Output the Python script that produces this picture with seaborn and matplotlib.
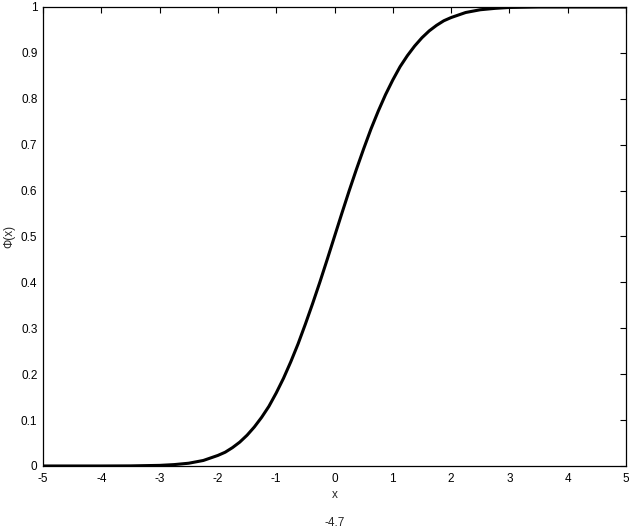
import pandas as pd
import matplotlib
matplotlib.use("Agg")
import matplotlib.pyplot as plt
import seaborn as sns

# Values
x_vals = [-5, -4.5, -4, -3.5, -3, -2.75, -2.5, -2.25, -2, -1.875, -1.75,
          -1.625, -1.5, -1.375, -1.25, -1.125, -1, -0.875, -0.75, -0.625,
          -0.5, -0.375, -0.25, -0.125, 0, 0.125, 0.25, 0.375, 0.5, 0.625,
          0.75, 0.875, 1, 1.125, 1.25, 1.375, 1.5, 1.625, 1.75, 1.875, 2,
          2.25, 2.5, 2.75, 3, 3.5, 4, 4.5, 5]
phi_vals = [0.0, 0.0, 0.0, 0.0002, 0.0013, 0.003, 0.006, 0.012, 0.023, 0.030,
            0.040, 0.052, 0.067, 0.085, 0.106, 0.130, 0.159, 0.191, 0.227,
            0.266, 0.309, 0.354, 0.401, 0.450, 0.500, 0.550, 0.599, 0.646,
            0.691, 0.734, 0.773, 0.809, 0.841, 0.870, 0.894, 0.915, 0.933,
            0.948, 0.960, 0.970, 0.977, 0.988, 0.994, 0.997, 0.999, 1.0,
            1.0, 1.0, 1.0]
x_ticks = [-5, -4, -3, -2, -1, 0, 1, 2, 3, 4, 5]
y_ticks = [0, 0.1, 0.2, 0.3, 0.4, 0.5, 0.6, 0.7, 0.8, 0.9, 1]
y_tick_labels = ["0", "0.1", "0.2", "0.3", "0.4", "0.5", "0.6", "0.7", "0.8", "0.9", "1"]

df = pd.DataFrame({"x": x_vals, "phi": phi_vals})

sns.set_style("white")
plt.rcParams["font.family"] = ["Liberation Sans", "DejaVu Sans"]
plt.rcParams["axes.unicode_minus"] = False

fig = plt.figure(figsize=(6.29, 5.30), dpi=100)
ax = fig.add_axes([0.0684, 0.1208, 0.9268, 0.866])

sns.lineplot(data=df, x="x", y="phi", color="black", linewidth=2.2, ax=ax)

ax.set_xlim(-5, 5)
ax.set_ylim(0, 1)
ax.set_xticks(x_ticks)
ax.set_yticks(y_ticks)
ax.set_yticklabels(y_tick_labels)
ax.tick_params(direction="in", length=4, width=0.8, labelsize=8.5,
               top=True, right=True, colors="black")
ax.tick_params(axis="x", pad=5)
ax.tick_params(axis="y", pad=4)
for s in ax.spines.values():
    s.set_color("black")
    s.set_linewidth(0.9)

ax.set_xlabel("x", fontsize=8.5, labelpad=3)
ax.set_ylabel("Φ(x)", fontsize=8.5, labelpad=4)
ax.text(0, -0.125, "-4.7", transform=ax.transData, ha="center", va="center",
        fontsize=8.5)

fig.savefig("out.png", dpi=100)
